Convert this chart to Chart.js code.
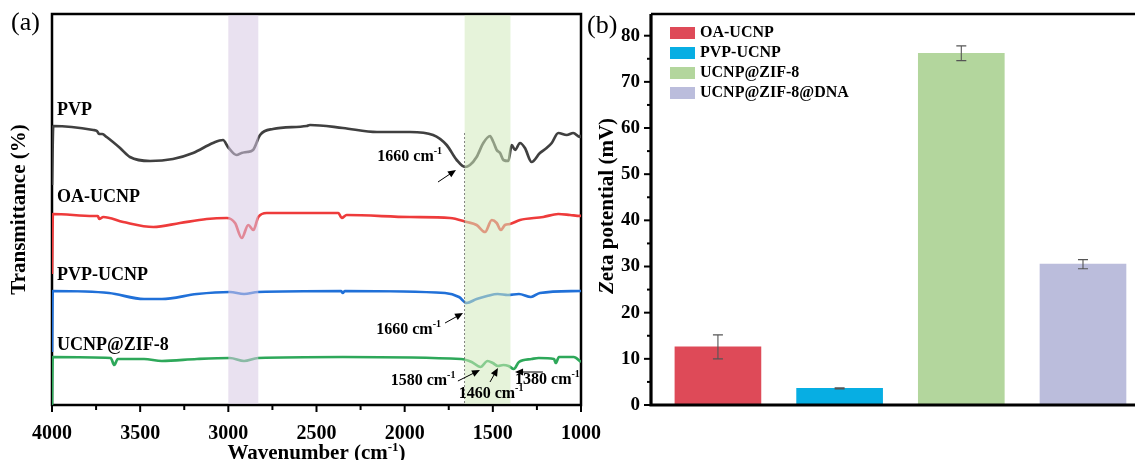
<!DOCTYPE html>
<html>
<head>
<meta charset="utf-8">
<script src="https://cdn.jsdelivr.net/npm/chart.js@4.4.1/dist/chart.umd.min.js"></script>
<style>
body { margin: 0; background: #fff; width: 1135px; height: 460px; overflow: hidden; position: relative; }
#ftir { position: absolute; left: 0; top: 0; }
#zeta { position: absolute; left: 580px; top: 0; }
</style>
</head>
<body>
<canvas id="ftir" width="610" height="460"></canvas>
<canvas id="zeta" width="580" height="460"></canvas>
<script>
// (a) FTIR spectra, offset transmittance (arb. units)
const pvpWave = [4000, 3993, 3766, 3745, 3733, 3715, 3690, 3614, 3558, 3444, 3314, 3200, 3087, 3030, 3002, 2953, 2925, 2896, 2860, 2820, 2747, 2556, 2537, 2350, 2157, 1970, 1839, 1762, 1705, 1658, 1630, 1592, 1554, 1516, 1497, 1478, 1459, 1440, 1412, 1393, 1374, 1346, 1318, 1280, 1233, 1195, 1166, 1129, 1081, 1044, 1006, 1000];
const pvpT = [220, 279, 275, 274, 271, 271, 268, 257, 248, 244, 246, 252, 262, 265, 258, 250, 252, 253, 255, 270, 276, 279, 280, 277, 273, 273, 270, 260, 245, 238, 240, 248, 262, 269, 263, 255, 252, 245, 244, 260, 255, 262, 257, 243, 252, 257, 262, 272, 270, 272, 268, 270];

const oaWave = [4000, 3995, 3766, 3740, 3732, 3709, 3596, 3425, 3274, 3123, 3009, 2962, 2924, 2887, 2858, 2830, 2782, 2499, 2376, 2357, 2329, 1970, 1743, 1648, 1592, 1544, 1506, 1478, 1455, 1431, 1403, 1346, 1214, 1129, 1062, 1006, 1000];
const oaT = [131, 191, 189, 189, 186, 188, 183, 178, 182, 186, 187, 182, 167, 180, 175, 188, 192, 192, 192, 187, 190, 188, 187, 183, 180, 173, 185, 182, 175, 180, 181, 185, 188, 191, 190, 189, 190];

const pvpUcnpWave = [4000, 3996, 3677, 3478, 3377, 3178, 2991, 2911, 2832, 2360, 2351, 2340, 1771, 1692, 1648, 1592, 1533, 1472, 1414, 1352, 1284, 1233, 1000];
const pvpUcnpT = [53, 114, 112, 106, 106, 111, 113, 111, 113, 114, 112, 114, 112, 108, 102, 106, 109, 111, 110, 111, 108, 112, 114];

const zifWave = [4000, 3996, 3667, 3647, 3627, 3478, 3377, 3178, 2991, 2911, 2832, 2351, 1680, 1620, 1570, 1530, 1500, 1471, 1441, 1411, 1381, 1352, 1280, 1240, 1153, 1143, 1125, 1041, 1000];
const zifT = [0, 48, 47, 40, 46, 46, 44, 46, 47, 44, 47, 48, 46, 43, 38, 44, 42, 39, 40, 39, 36, 43, 46, 47, 46, 42, 48, 48, 43];

const spectraNames = ['PVP', 'OA-UCNP', 'PVP-UCNP', 'UCNP@ZIF-8'];
const spectraColors = ['#404040', '#EE3B3B', '#2070D8', '#2EA85A'];

// (b) zeta potential
const zetaLabels = ['OA-UCNP', 'PVP-UCNP', 'UCNP@ZIF-8', 'UCNP@ZIF-8@DNA'];
const zetaMeans = [12.6, 3.6, 76.2, 30.5];
const zetaErrors = [2.6, 0.1, 1.6, 1.0];
const zetaColors = ['#DE4A58', '#07AEE3', '#B3D69D', '#BBBDDC'];

const serif = '"Liberation Serif", "DejaVu Serif", serif';

function drawRich(ctx, parts, x, y, size, align) {
  const fontOf = p => (p.italic ? 'italic ' : '') + (p.normal ? '' : 'bold ') + (p.sup ? Math.round(size * 0.62) : size) + 'px ' + serif;
  let total = 0;
  parts.forEach(p => { ctx.font = fontOf(p); p.w = ctx.measureText(p.t).width; total += p.w; });
  let cx = align === 'right' ? x - total : align === 'center' ? x - total / 2 : x;
  ctx.textAlign = 'left';
  parts.forEach(p => {
    ctx.font = fontOf(p);
    ctx.fillText(p.t, cx, p.sup ? y - size * 0.36 : y);
    cx += p.w;
  });
}

function arrow(ctx, x1, y1, x2, y2) {
  const ang = Math.atan2(y2 - y1, x2 - x1), hl = 8, hw = 3.5;
  ctx.beginPath();
  ctx.moveTo(x1, y1);
  ctx.lineTo(x2 - Math.cos(ang) * hl * 0.8, y2 - Math.sin(ang) * hl * 0.8);
  ctx.stroke();
  ctx.beginPath();
  ctx.moveTo(x2, y2);
  ctx.lineTo(x2 - Math.cos(ang) * hl - Math.sin(ang) * hw, y2 - Math.sin(ang) * hl + Math.cos(ang) * hw);
  ctx.lineTo(x2 - Math.cos(ang) * hl + Math.sin(ang) * hw, y2 - Math.sin(ang) * hl - Math.cos(ang) * hw);
  ctx.closePath();
  ctx.fill();
}

const ftirDecor = {
  id: 'ftirDecor',
  beforeDatasetsDraw(chart) {
    // frame and ticks first, so the spectra's first points run over the left spine
    const {ctx, chartArea: a, scales: {x}} = chart;
    ctx.save();
    ctx.strokeStyle = '#000';
    ctx.lineWidth = 2.5;
    ctx.strokeRect(a.left, a.top, a.right - a.left, a.bottom - a.top);
    ctx.lineWidth = 2;
    for (let w = 1000; w <= 4000; w += 250) {
      const px = x.getPixelForValue(w);
      ctx.beginPath();
      ctx.moveTo(px, a.bottom);
      ctx.lineTo(px, a.bottom + (w % 500 === 0 ? 7 : 5));
      ctx.stroke();
    }
    ctx.restore();
  },
  afterDatasetsDraw(chart) {
    const {ctx, chartArea: a, scales: {x, y}} = chart;
    ctx.save();
    // shaded bands (over the curves, so the curves look faded inside)
    [{from: 3000, to: 2830, color: 'rgba(215,200,228,0.55)'},
     {from: 1660, to: 1400, color: 'rgba(210,233,188,0.55)'}].forEach(b => {
      const x1 = x.getPixelForValue(b.from), x2 = x.getPixelForValue(b.to);
      ctx.fillStyle = b.color;
      ctx.fillRect(x1, a.top + 1.2, x2 - x1, a.bottom - a.top - 2.4);
    });
    // dashed marker at 1660
    ctx.strokeStyle = '#666';
    ctx.lineWidth = 0.8;
    ctx.setLineDash([2, 2]);
    ctx.beginPath();
    ctx.moveTo(x.getPixelForValue(1660), y.getPixelForValue(272));
    ctx.lineTo(x.getPixelForValue(1660), a.bottom);
    ctx.stroke();
    ctx.setLineDash([]);

    ctx.fillStyle = '#000';
    ctx.textBaseline = 'middle';
    // curve labels
    ctx.font = 'bold 18px ' + serif;
    ctx.textAlign = 'left';
    const labelY = [295, 208, 130, 60];
    spectraNames.forEach((n, i) => ctx.fillText(n, a.left + 5, y.getPixelForValue(labelY[i])));

    // peak annotations
    ctx.lineWidth = 1;
    ctx.strokeStyle = '#000';
    [{t: '1660', tail: [1811, 223], tip: [1709, 235], at: [1788, 248], align: 'right'},
     {t: '1660', tail: [1771, 82], tip: [1669, 92], at: [1794, 75], align: 'right'},
     {t: '1580', tail: [1698, 24], tip: [1573, 35], at: [1712, 24], align: 'right'},
     {t: '1460', tail: [1516, 23], tip: [1471, 37], at: [1510, 11], align: 'center'},
     {t: '1380', tail: [1216, 33], tip: [1374, 33], at: [1374, 25], align: 'left'}].forEach(n => {
      arrow(ctx, x.getPixelForValue(n.tail[0]), y.getPixelForValue(n.tail[1]),
            x.getPixelForValue(n.tip[0]), y.getPixelForValue(n.tip[1]));
      drawRich(ctx, [{t: n.t + ' cm'}, {t: '-1', sup: true}],
               x.getPixelForValue(n.at[0]), y.getPixelForValue(n.at[1]), 16, n.align);
    });

    // axis titles and panel label
    ctx.textBaseline = 'alphabetic';
    drawRich(ctx, [{t: 'Wavenumber (cm'}, {t: '-1', sup: true}, {t: ')'}], (a.left + a.right) / 2, 459, 21, 'center');
    ctx.save();
    ctx.translate(20, (a.top + a.bottom) / 2);
    ctx.rotate(-Math.PI / 2);
    ctx.textBaseline = 'middle';
    drawRich(ctx, [{t: 'Transmittance (%)'}], 0, 0, 21, 'center');
    ctx.restore();
    ctx.textBaseline = 'middle';
    drawRich(ctx, [{t: '(a)', normal: true}], 11, 23, 26, 'left');
    ctx.restore();
  }
};

const spectra = [[pvpWave, pvpT], [oaWave, oaT], [pvpUcnpWave, pvpUcnpT], [zifWave, zifT]];

new Chart(document.getElementById('ftir'), {
  type: 'line',
  data: {
    datasets: spectra.map(([w, t], i) => ({
      label: spectraNames[i],
      data: w.map((v, j) => ({x: v, y: t[j]})),
      borderColor: spectraColors[i],
      borderWidth: 2.7,
      pointRadius: 0,
      cubicInterpolationMode: 'monotone'
    }))
  },
  options: {
    responsive: false,
    animation: false,
    layout: {padding: {left: 52, right: 29, top: 14, bottom: 0}},
    plugins: {legend: {display: false}, tooltip: {enabled: false}},
    scales: {
      x: {
        type: 'linear', min: 1000, max: 4000, reverse: true,
        afterFit: s => { s.height = 55; },
        grid: {display: false, drawTicks: true, tickLength: 17},
        border: {display: false},
        ticks: {stepSize: 500, padding: 0, color: '#000', font: {family: serif, size: 20, weight: 'bold'},
                callback: v => String(v)}
      },
      y: {min: 0, max: 391, display: false}
    }
  },
  plugins: [ftirDecor]
});

const zetaDecor = {
  id: 'zetaDecor',
  afterDatasetsDraw(chart) {
    const {ctx, chartArea: a, scales: {y}} = chart;
    ctx.save();
    // error bars
    ctx.strokeStyle = '#555';
    ctx.lineWidth = 1.1;
    zetaMeans.forEach((m, i) => {
      const bx = chart.getDatasetMeta(i).data[0].x;
      const top = y.getPixelForValue(m + zetaErrors[i]), bot = y.getPixelForValue(m - zetaErrors[i]);
      ctx.beginPath();
      ctx.moveTo(bx, top); ctx.lineTo(bx, bot);
      ctx.moveTo(bx - 5, top); ctx.lineTo(bx + 5, top);
      ctx.moveTo(bx - 5, bot); ctx.lineTo(bx + 5, bot);
      ctx.stroke();
    });
    // spines
    ctx.strokeStyle = '#000';
    ctx.lineWidth = 2.5;
    ctx.beginPath();
    ctx.moveTo(a.left, a.top); ctx.lineTo(chart.width, a.top);
    ctx.stroke();
    ctx.lineWidth = 3.2;
    ctx.beginPath();
    ctx.moveTo(a.left, a.top); ctx.lineTo(a.left, a.bottom); ctx.lineTo(chart.width, a.bottom);
    ctx.stroke();
    ctx.lineWidth = 2;
    for (let v = 0; v <= 80; v += 5) {
      const py = y.getPixelForValue(v);
      ctx.beginPath();
      ctx.moveTo(a.left, py);
      ctx.lineTo(a.left - (v % 10 === 0 ? 7 : 4), py);
      ctx.stroke();
    }
    // legend
    ctx.textBaseline = 'middle';
    ctx.fillStyle = '#000';
    zetaLabels.forEach((l, i) => {
      const ry = 33 + i * 20;
      ctx.fillStyle = zetaColors[i];
      ctx.fillRect(a.left + 19, ry - 6, 25, 12);
      ctx.fillStyle = '#000';
      drawRich(ctx, [{t: l}], a.left + 49, ry, 16, 'left');
    });
    // y title
    ctx.save();
    ctx.translate(28, 206);
    ctx.rotate(-Math.PI / 2);
    drawRich(ctx, [{t: 'Z', italic: true}, {t: 'eta potential (mV)'}], 0, 0, 21, 'center');
    ctx.restore();
    drawRich(ctx, [{t: '(b)', normal: true}], 7, 26, 26, 'left');
    ctx.restore();
  }
};

new Chart(document.getElementById('zeta'), {
  type: 'bar',
  data: {
    datasets: zetaLabels.map((name, i) => ({
      label: name,
      data: [{x: i + 1, y: zetaMeans[i]}],
      backgroundColor: zetaColors[i],
      barThickness: 86,
      grouped: false
    }))
  },
  options: {
    responsive: false,
    animation: false,
    layout: {padding: {left: 0, right: 4, top: 14, bottom: 55}},
    plugins: {legend: {display: false}, tooltip: {enabled: false}},
    scales: {
      x: {type: 'linear', min: 0.45, max: 4.6, offset: false, display: false},
      y: {
        min: 0, max: 84.7,
        afterFit: s => { s.width = 71; },
        grid: {display: false, drawTicks: true, tickLength: 11},
        border: {display: false},
        ticks: {stepSize: 10, includeBounds: false, padding: 0, color: '#000', font: {family: serif, size: 19, weight: 'bold'}}
      }
    }
  },
  plugins: [zetaDecor]
});
</script>
</body>
</html>
